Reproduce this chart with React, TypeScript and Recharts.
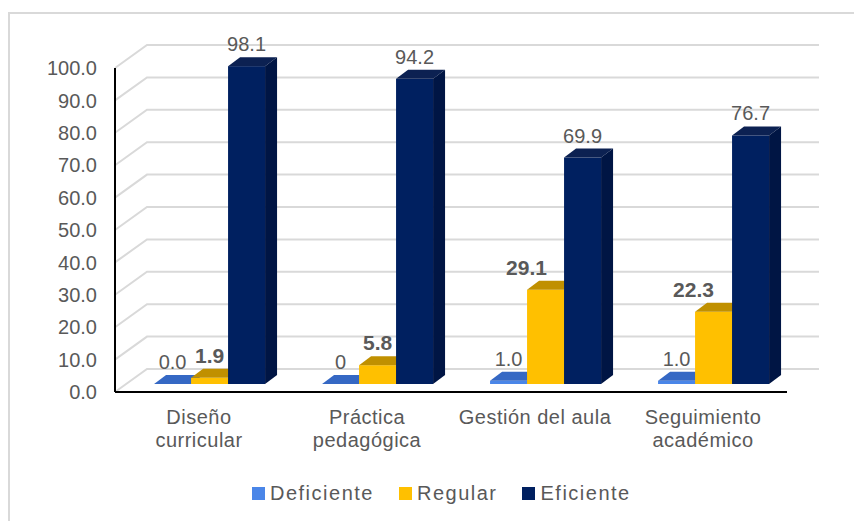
import React from 'react';
import { BarChart, Bar, XAxis, YAxis, CartesianGrid, LabelList, Legend } from 'recharts';

const categories = ['Diseño curricular', 'Práctica pedagógica', 'Gestión del aula', 'Seguimiento académico'];
const categoryLines = [['Diseño', 'curricular'], ['Práctica', 'pedagógica'], ['Gestión del aula'], ['Seguimiento', 'académico']];
const deficiente = [0, 0, 1.0, 1.0];
const regular = [1.9, 5.8, 29.1, 22.3];
const eficiente = [98.1, 94.2, 69.9, 76.7];
const deficienteLabels = ['0.0', '0', '1.0', '1.0'];
const regularLabels = ['1.9', '5.8', '29.1', '22.3'];
const eficienteLabels = ['98.1', '94.2', '69.9', '76.7'];
const yTicks = [0, 10, 20, 30, 40, 50, 60, 70, 80, 90, 100];

const FONT = '"Liberation Sans", Arial, sans-serif';
const TEXT = '#595959';

// 3d look: bars sit a little behind the front axis plane, the wall further back
const SHIFT = { x: 11, y: -8 };
const DEPTH = { x: 12, y: -9 };
const WALL = { x: 32, y: -23 };

// the two taller "Regular" labels were dragged left in the original so they clear the dark bars
const REGULAR_NUDGE = [0, 0, -19, -20];
const NO_NUDGE = [0, 0, 0, 0];

const PALETTE: Record<string, { front: string; top: string; side: string }> = {
  deficiente: { front: '#4A86E8', top: '#3568C4', side: '#2B55A3' },
  regular: { front: '#FFC000', top: '#C09000', side: '#B58800' },
  eficiente: { front: '#002060', top: '#0C2152', side: '#001544' },
};

const data = categories.map((name, i) => ({
  name,
  deficiente: deficiente[i],
  regular: regular[i],
  eficiente: eficiente[i],
}));

const makeBar = (key: string) => (props: any) => {
  const c = PALETTE[key];
  const x = props.x + SHIFT.x;
  const y = props.y + SHIFT.y;
  const w = props.width;
  const h = Math.max(props.height, 0);
  return (
    <g>
      <rect x={x} y={y} width={w} height={h} fill={c.front} />
      <polygon
        points={`${x},${y} ${x + w},${y} ${x + w + DEPTH.x},${y + DEPTH.y} ${x + DEPTH.x},${y + DEPTH.y}`}
        fill={c.top}
      />
      <polygon
        points={`${x + w},${y} ${x + w + DEPTH.x},${y + DEPTH.y} ${x + w + DEPTH.x},${y + h + DEPTH.y} ${x + w},${y + h}`}
        fill={c.side}
      />
    </g>
  );
};

const makeLabel = (labels: string[], bold: boolean, nudge: number[]) => (props: any) => {
  const vb = props.viewBox ?? props;
  const x = (vb.x ?? props.x) + SHIFT.x + (vb.width ?? props.width) / 2 + nudge[props.index];
  const y = (vb.y ?? props.y) + SHIFT.y - 15;
  return (
    <text
      x={x}
      y={y}
      textAnchor="middle"
      fontFamily={FONT}
      fontSize={bold ? 21 : 20}
      fontWeight={bold ? 'bold' : 'normal'}
      fill={TEXT}
    >
      {labels[props.index]}
    </text>
  );
};

const WallLine = (props: any) => {
  const { x1, y1, x2, y2 } = props;
  return (
    <path
      d={`M${x1},${y1} L${x1 + WALL.x},${y1 + WALL.y} L${x2 + WALL.x},${y2 + WALL.y}`}
      stroke="#D9D9D9"
      strokeWidth={2}
      fill="none"
    />
  );
};

const CategoryTick = (props: any) => {
  const { x, y, payload } = props;
  const lines = categoryLines[categories.indexOf(payload.value)] ?? [payload.value];
  return (
    <text x={x} y={y + 32} textAnchor="middle" fontFamily={FONT} fontSize={20} fill={TEXT} letterSpacing={0.5}>
      {lines.map((l, i) => (
        <tspan key={i} x={x} dy={i === 0 ? 0 : 23}>
          {l}
        </tspan>
      ))}
    </text>
  );
};

const LegendContent = () => {
  const items = [
    { name: 'Deficiente', color: PALETTE.deficiente.front },
    { name: 'Regular', color: PALETTE.regular.front },
    { name: 'Eficiente', color: PALETTE.eficiente.front },
  ];
  return (
    <div style={{ display: 'flex', alignItems: 'center', fontFamily: FONT, fontSize: 20, color: TEXT }}>
      {items.map((it) => (
        <div key={it.name} style={{ display: 'flex', alignItems: 'center', marginRight: 25 }}>
          <span style={{ width: 13, height: 13, background: it.color, display: 'inline-block', marginRight: 5 }} />
          <span style={{ letterSpacing: 1.5 }}>{it.name}</span>
        </div>
      ))}
    </div>
  );
};

export default function App() {
  return (
    <div style={{ position: 'relative', width: 854, height: 521, overflow: 'hidden', background: '#fff' }}>
      <style>{'body{margin:0}'}</style>
      <div
        style={{
          position: 'absolute',
          left: 8,
          top: 12,
          width: 900,
          height: 600,
          borderLeft: '2px solid #D9D9D9',
          borderTop: '2px solid #D9D9D9',
        }}
      />
      <BarChart
        width={854}
        height={521}
        data={data}
        margin={{ top: 68, right: 67, bottom: 49, left: 8 }}
        barCategoryGap="16.7%"
        barGap={0}
        style={{ position: 'absolute', left: 0, top: 0 }}
      >
        <CartesianGrid vertical={false} horizontal={WallLine} />
        <XAxis
          dataKey="name"
          height={80}
          tickSize={0}
          tickMargin={0}
          tickLine={false}
          axisLine={{ stroke: '#000', strokeWidth: 2 }}
          tick={CategoryTick}
          interval={0}
        />
        <YAxis
          width={107}
          domain={[0, 100]}
          ticks={yTicks}
          tickSize={0}
          tickMargin={18}
          tickLine={false}
          axisLine={{ stroke: '#000', strokeWidth: 2 }}
          tickFormatter={(v) => Number(v).toFixed(1)}
          tick={{ fontFamily: FONT, fontSize: 20, fill: TEXT }}
        />
        <Legend
          verticalAlign="middle"
          layout="horizontal"
          content={LegendContent}
          wrapperStyle={{ top: 482, left: 252, width: 500 }}
        />
        <Bar dataKey="deficiente" name="Deficiente" fill={PALETTE.deficiente.front} shape={makeBar('deficiente')} isAnimationActive={false}>
          <LabelList dataKey="deficiente" content={makeLabel(deficienteLabels, false, NO_NUDGE)} />
        </Bar>
        <Bar dataKey="regular" name="Regular" fill={PALETTE.regular.front} shape={makeBar('regular')} isAnimationActive={false}>
          <LabelList dataKey="regular" content={makeLabel(regularLabels, true, REGULAR_NUDGE)} />
        </Bar>
        <Bar dataKey="eficiente" name="Eficiente" fill={PALETTE.eficiente.front} shape={makeBar('eficiente')} isAnimationActive={false}>
          <LabelList dataKey="eficiente" content={makeLabel(eficienteLabels, false, NO_NUDGE)} />
        </Bar>
      </BarChart>
    </div>
  );
}
